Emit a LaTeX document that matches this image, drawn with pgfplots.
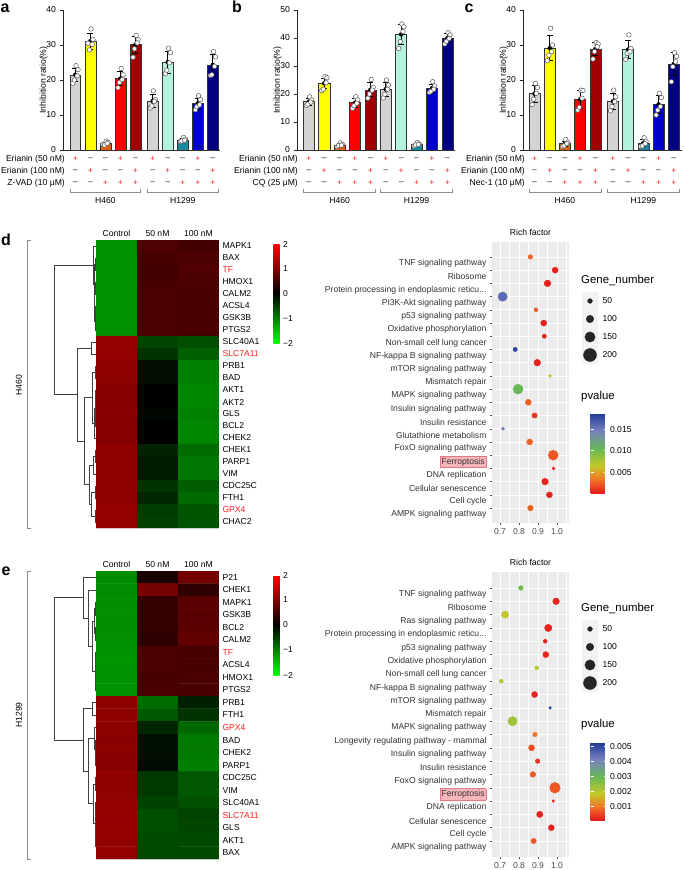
\documentclass[border=0pt]{standalone}
\usepackage{pgfplots}
\pgfplotsset{compat=1.18}
\usepackage{fontspec}
\setmainfont{Liberation Sans}
\newcommand{\fs}{\fontsize{8.6pt}{10pt}\selectfont}
\newcommand{\ft}{\fontsize{11.4pt}{13pt}\selectfont}
\newcommand{\ppr}{Protein processing in endoplasmic reticu.\kern0pt.\kern0pt.}
\definecolor{ggbg}{RGB}{235,235,235}
\definecolor{ggkey}{RGB}{242,242,242}
\definecolor{cgrey}{RGB}{211,211,211}
\definecolor{cyel}{RGB}{255,255,0}
\definecolor{cora}{RGB}{228,94,16}
\definecolor{cred}{RGB}{255,0,0}
\definecolor{cdred}{RGB}{160,0,0}
\definecolor{caqua}{RGB}{178,242,222}
\definecolor{cteal}{RGB}{24,138,158}
\definecolor{cblue}{RGB}{0,0,204}
\definecolor{cnavy}{RGB}{0,0,128}
\definecolor{sgnred}{RGB}{255,40,40}
\definecolor{genered}{RGB}{255,30,30}
\definecolor{ferf}{RGB}{245,182,188}
\definecolor{ferb}{RGB}{228,120,130}
\tikzset{
  pl/.style={text=sgnred, font=\fs, inner sep=0pt},
  mi/.style={text=black!85, font=\fs, inner sep=0pt},
}
\pgfplotsset{
  /pgf/number format/assume math mode=true,
  colormap={rg}{rgb255(0cm)=(0,255,0); rgb255(1cm)=(0,0,0); rgb255(2cm)=(255,0,0)},
  colormap={pv}{rgb255(0cm)=(228,26,28); rgb255(18cm)=(240,122,40); rgb255(34cm)=(196,200,42); rgb255(55cm)=(104,186,84); rgb255(78cm)=(120,128,192); rgb255(100cm)=(28,58,150)},
  barax/.style={anchor=south west, scale only axis, height=140pt, ymin=0, xtick=\empty,
    axis x line*=bottom, axis y line*=left, axis line style={black!85, line width=0.7pt},
    tick align=outside, major tick length=3.5pt, tick style={black!85, line width=0.7pt},
    ylabel={Inhibition ratio(\%)}, ylabel style={font=\fs}, ylabel shift=-8pt,
    yticklabel style={font=\fs}, clip=false},
  heat/.style={anchor=north west, scale only axis, width=123pt, enlargelimits=false,
    xmin=-0.5, xmax=2.5, axis line style={draw=none}, major tick length=0pt, tick style={draw=none},
    xtick={0,1,2}, xticklabels={Control,50 nM,100 nM}, xticklabel pos=upper, yticklabel pos=upper,
    tick label style={font=\fs}, colormap name=rg, point meta min=-2, point meta max=2},
  dotax/.style={anchor=north west, scale only axis, width=77pt, xmin=0.658, xmax=1.063,
    axis background/.style={fill=ggbg}, axis line style={draw=none},
    xtick={0.7,0.8,0.9,1.0}, xticklabels={0.7,0.8,0.9,1.0}, minor xtick={0.75,0.85,0.95,1.05},
    ytick={0,1,2,3,4,5,6,7,8,9,10,11,12,13,14,15,16,17,18,19}, tick pos=left, tick align=outside, major tick length=2pt, minor tick length=0pt,
    tick style={black!70, line width=0.5pt}, xmajorgrids, xminorgrids, ymajorgrids,
    major grid style={white, line width=0.7pt}, minor grid style={white, line width=0.35pt},
    xticklabel style={font=\fs, text=black!70}, yticklabel style={font=\fs, text=black!80, yshift=-6.6pt},
    title={Rich factor}, title style={font=\fs, yshift=-3pt}, colormap name=pv},
  legax/.style={anchor=north west, scale only axis, width=16pt, height=72pt, xmin=0, xmax=1, ymin=-0.5, ymax=3.5,
    axis background/.style={fill=ggkey}, axis line style={draw=none}, xtick=\empty, ytick={0,1,2,3},
    yticklabels={200,150,100,50}, yticklabel pos=upper, major tick length=0pt, tick style={draw=none},
    yticklabel style={font=\fs, xshift=1pt}},
  cbax/.style={anchor=north west, hide axis, scale only axis, width=0pt, height=0pt, colorbar},
}
\newcommand{\gbar}[9]{%
  \addplot[ybar, bar shift=0pt, bar width=0.72, fill=#2, draw=black!80, line width=0.5pt] coordinates {(#1,#3)};
  \addplot[only marks, mark=none, error bars/.cd, y dir=both, y explicit, error bar style={black, line width=0.7pt},
    error mark options={black, rotate=90, mark size=3pt, line width=0.7pt}] coordinates {(#1,#3) +- (0,#4)};
  \addplot[only marks, mark=*, mark size=2.3pt, mark options={draw=black!65, fill=white, line width=0.5pt}]
    table[row sep=\\, x expr={#1+\thisrow{dx}}, y=v] {dx v\\ 0.05 #5\\ -0.16 #6\\ 0.18 #7\\ -0.06 #8\\ 0.12 #9\\};
}
\begin{document}
\begin{tikzpicture}
\useasboundingbox (0pt,0pt) rectangle (685pt,-870pt);

% ---------------- panel a
\begin{axis}[barax, at={(63pt,-150pt)}, width=157pt, xmin=-0.82, xmax=9.63, ymax=40, ytick={0,10,20,30,40}]
\gbar{0}{cgrey}{21.5}{1.9}{24.1}{19.1}{23.0}{20.0}{21.2}
\gbar{1}{cyel}{31.1}{2.2}{34.6}{30.5}{31.6}{28.6}{30.2}
\gbar{2}{cora}{1.9}{0.4}{2.5}{1.6}{2.2}{1.4}{1.9}
\gbar{3}{cred}{20.4}{2.0}{23.3}{17.8}{21.5}{19.3}{20.1}
\gbar{4}{cdred}{30.1}{2.4}{32.7}{26.5}{31.6}{28.9}{30.6}
\gbar{5.15}{cgrey}{14.0}{1.9}{16.9}{12.0}{14.4}{12.6}{13.9}
\gbar{6.15}{caqua}{25.1}{3.1}{29.1}{21.8}{27.8}{22.8}{24.9}
\gbar{7.15}{cteal}{2.9}{0.45}{3.6}{2.4}{3.1}{2.6}{2.8}
\gbar{8.15}{cblue}{13.3}{1.6}{15.5}{11.5}{14.4}{12.4}{12.9}
\gbar{9.15}{cnavy}{24.3}{3.0}{28.1}{21.3}{26.6}{21.5}{23.9}
\pgfplotsinvokeforeach{0,3,5.15,8.15}{\node[pl, yshift=-9pt] at (axis cs:#1,0) {+};}
\pgfplotsinvokeforeach{1,2,4,6.15,7.15,9.15}{\node[mi, yshift=-9pt] at (axis cs:#1,0) {–};}
\pgfplotsinvokeforeach{1,4,6.15,9.15}{\node[pl, yshift=-21pt] at (axis cs:#1,0) {+};}
\pgfplotsinvokeforeach{0,2,3,5.15,7.15,8.15}{\node[mi, yshift=-21pt] at (axis cs:#1,0) {–};}
\pgfplotsinvokeforeach{2,3,4,7.15,8.15,9.15}{\node[pl, yshift=-33pt] at (axis cs:#1,0) {+};}
\pgfplotsinvokeforeach{0,1,5.15,6.15}{\node[mi, yshift=-33pt] at (axis cs:#1,0) {–};}
\end{axis}

% ---------------- panel b
\begin{axis}[barax, at={(297pt,-150pt)}, width=158pt, xmin=-0.77, xmax=9.5, ymax=50, ytick={0,10,20,30,40,50}]
\gbar{0}{cgrey}{17.3}{1.2}{19.0}{15.9}{17.9}{16.4}{17.1}
\gbar{1}{cyel}{23.8}{1.9}{26.2}{21.2}{25.8}{21.7}{24.0}
\gbar{2}{cora}{1.8}{0.5}{2.5}{1.2}{2.0}{1.6}{1.7}
\gbar{3}{cred}{16.9}{1.6}{19.0}{14.9}{17.9}{15.8}{16.7}
\gbar{4}{cdred}{21.5}{2.5}{25.2}{18.5}{22.4}{20.0}{21.4}
\gbar{5}{cgrey}{21.7}{2.5}{25.0}{18.6}{23.2}{19.9}{21.7}
\gbar{6}{caqua}{41.3}{3.6}{45.0}{36.3}{44.0}{38.7}{42.3}
\gbar{7}{cteal}{2.0}{0.4}{2.6}{1.5}{2.2}{1.8}{2.0}
\gbar{8}{cblue}{22.1}{1.5}{24.4}{20.6}{22.9}{21.0}{21.7}
\gbar{9}{cnavy}{39.9}{1.6}{41.9}{37.9}{41.1}{38.8}{39.8}
\pgfplotsinvokeforeach{0,3,5,8}{\node[pl, yshift=-9pt] at (axis cs:#1,0) {+};}
\pgfplotsinvokeforeach{1,2,4,6,7,9}{\node[mi, yshift=-9pt] at (axis cs:#1,0) {–};}
\pgfplotsinvokeforeach{1,4,6,9}{\node[pl, yshift=-21pt] at (axis cs:#1,0) {+};}
\pgfplotsinvokeforeach{0,2,3,5,7,8}{\node[mi, yshift=-21pt] at (axis cs:#1,0) {–};}
\pgfplotsinvokeforeach{2,3,4,7,8,9}{\node[pl, yshift=-33pt] at (axis cs:#1,0) {+};}
\pgfplotsinvokeforeach{0,1,5,6}{\node[mi, yshift=-33pt] at (axis cs:#1,0) {–};}
\end{axis}

% ---------------- panel c
\begin{axis}[barax, at={(523pt,-150pt)}, width=159pt, xmin=-0.76, xmax=9.69, ymax=40, ytick={0,10,20,30,40}]
\gbar{0}{cgrey}{16.1}{2.4}{19.0}{13.0}{17.8}{14.5}{16.2}
\gbar{1}{cyel}{29.1}{3.6}{34.8}{25.5}{30.0}{27.1}{28.1}
\gbar{2}{cora}{1.8}{0.8}{3.0}{1.0}{2.2}{1.2}{1.8}
\gbar{3}{cred}{14.5}{2.6}{17.1}{11.4}{17.0}{12.2}{14.8}
\gbar{4}{cdred}{28.9}{1.9}{30.7}{26.0}{30.3}{28.1}{29.5}
\gbar{5.15}{cgrey}{13.9}{2.3}{17.1}{11.2}{15.2}{12.4}{13.8}
\gbar{6.15}{caqua}{28.7}{2.6}{32.9}{25.9}{29.0}{27.6}{28.1}
\gbar{7.15}{cteal}{2.0}{1.0}{3.5}{1.0}{2.5}{1.2}{1.8}
\gbar{8.15}{cblue}{13.0}{2.6}{16.2}{10.0}{15.0}{11.4}{12.4}
\gbar{9.15}{cnavy}{24.6}{3.2}{27.8}{19.5}{26.7}{23.8}{25.2}
\pgfplotsinvokeforeach{0,3,5.15,8.15}{\node[pl, yshift=-9pt] at (axis cs:#1,0) {+};}
\pgfplotsinvokeforeach{1,2,4,6.15,7.15,9.15}{\node[mi, yshift=-9pt] at (axis cs:#1,0) {–};}
\pgfplotsinvokeforeach{1,4,6.15,9.15}{\node[pl, yshift=-21pt] at (axis cs:#1,0) {+};}
\pgfplotsinvokeforeach{0,2,3,5.15,7.15,8.15}{\node[mi, yshift=-21pt] at (axis cs:#1,0) {–};}
\pgfplotsinvokeforeach{2,3,4,7.15,8.15,9.15}{\node[pl, yshift=-33pt] at (axis cs:#1,0) {+};}
\pgfplotsinvokeforeach{0,1,5.15,6.15}{\node[mi, yshift=-33pt] at (axis cs:#1,0) {–};}
\end{axis}

% row labels and groups
\foreach \xx/\lab in {65/{Z-VAD (10 μM)}, 298/{CQ (25 μM)}, 525/{Nec-1 (10 μM)}}{
  \node[anchor=east, font=\fs, inner sep=0pt] at (\xx pt,-159pt) {Erianin (50 nM)};
  \node[anchor=east, font=\fs, inner sep=0pt] at (\xx pt,-171pt) {Erianin (100 nM)};
  \node[anchor=east, font=\fs, inner sep=0pt] at (\xx pt,-183pt) {\lab};
}
\foreach \xx in {105.4,339.6,565}{\node[font=\fs] at (\xx pt,-201pt) {H460};}
\foreach \xx in {182.8,416.5,643.4}{\node[font=\fs] at (\xx pt,-201pt) {H1299};}

% ---------------- overlay: dendrograms and brackets
\begin{axis}[at={(0pt,0pt)}, anchor=north west, scale only axis, width=685pt, height=870pt,
  xmin=0, xmax=685, ymin=0, ymax=870, y dir=reverse, hide axis, clip=false, unbounded coords=jump]
\addplot[black!45, line width=0.7pt] coordinates {
(69.9,189) (69.9,192) (140.8,192) (140.8,189) (nan,nan) (147.3,189) (147.3,192) (218.2,192) (218.2,189) (nan,nan)
(303.3,189) (303.3,192) (375.8,192) (375.8,189) (nan,nan) (380.2,189) (380.2,192) (452.7,192) (452.7,189) (nan,nan)
(529.1,189) (529.1,192) (601,192) (601,189) (nan,nan) (607.4,189) (607.4,192) (679.3,192) (679.3,189) (nan,nan)
(31,240) (27,240) (27,528) (31,528) (nan,nan) (31,571) (27,571) (27,859) (31,859)};
\addplot[black!75, line width=0.6pt] coordinates {
(96,258) (95,258) (95,270) (96,270) (nan,nan)
(96,282) (95.5,282) (95.5,294) (96,294) (nan,nan)
(96,306) (95.5,306) (95.5,318) (96,318) (nan,nan)
(95.5,312) (95,312) (95,330) (96,330) (nan,nan)
(95.5,288) (94.5,288) (94.5,321) (95,321) (nan,nan)
(95,264) (94,264) (94,304.5) (94.5,304.5) (nan,nan)
(96,246) (93,246) (93,284.25) (94,284.25) (nan,nan)
(96,342) (91,342) (91,354) (96,354) (nan,nan)
(96,366) (95,366) (95,378) (96,378) (nan,nan)
(96,390) (95.5,390) (95.5,402) (96,402) (nan,nan)
(96,414) (95.5,414) (95.5,426) (96,426) (nan,nan)
(95.5,396) (95,396) (95,420) (95.5,420) (nan,nan)
(95,408) (94,408) (94,438) (96,438) (nan,nan)
(95,372) (92,372) (92,423) (94,423) (nan,nan)
(96,450) (95,450) (95,462) (96,462) (nan,nan)
(95,456) (93,456) (93,474) (96,474) (nan,nan)
(96,486) (95,486) (95,498) (96,498) (nan,nan)
(96,510) (95,510) (95,522) (96,522) (nan,nan)
(95,492) (91,492) (91,516) (95,516) (nan,nan)
(93,465) (89,465) (89,504) (91,504) (nan,nan)
(92,397.5) (84,397.5) (84,484.5) (89,484.5) (nan,nan)
(91,348) (77,348) (77,441) (84,441) (nan,nan)
(93,265.1) (54,265.1) (54,394.5) (77,394.5) (nan,nan)
(96,602.3) (95,602.3) (95,614.8) (96,614.8) (nan,nan)
(96,627.3) (95.5,627.3) (95.5,639.9) (96,639.9) (nan,nan)
(95,608.6) (94,608.6) (94,633.6) (95.5,633.6) (nan,nan)
(96,652.4) (95.5,652.4) (95.5,664.9) (96,664.9) (nan,nan)
(96,677.4) (95.5,677.4) (95.5,689.9) (96,689.9) (nan,nan)
(95.5,658.7) (95,658.7) (95,683.7) (95.5,683.7) (nan,nan)
(94,621.1) (92,621.1) (92,671.2) (95,671.2) (nan,nan)
(96,589.8) (88,589.8) (88,646.2) (92,646.2) (nan,nan)
(96,577.3) (83,577.3) (83,618) (88,618) (nan,nan)
(96,702.5) (92.5,702.5) (92.5,715) (96,715) (nan,nan)
(96,752.5) (95.5,752.5) (95.5,765.1) (96,765.1) (nan,nan)
(96,740) (95,740) (95,758.8) (95.5,758.8) (nan,nan)
(96,727.5) (94,727.5) (94,749.4) (95,749.4) (nan,nan)
(96,777.6) (95.5,777.6) (95.5,790.1) (96,790.1) (nan,nan)
(96,802.6) (95.5,802.6) (95.5,815.1) (96,815.1) (nan,nan)
(96,840.2) (95.8,840.2) (95.8,852.7) (96,852.7) (nan,nan)
(96,827.6) (95.5,827.6) (95.5,846.4) (95.8,846.4) (nan,nan)
(95.5,808.9) (95,808.9) (95,837) (95.5,837) (nan,nan)
(95.5,783.9) (93,783.9) (93,823) (95,823) (nan,nan)
(94,738.5) (88,738.5) (88,803.4) (93,803.4) (nan,nan)
(92.5,708.75) (83,708.75) (83,771) (88,771) (nan,nan)
(83,597.7) (54,597.7) (54,739.9) (83,739.9)};
\end{axis}
\node[rotate=90, font=\fs] at (19pt,-385pt) {H460};
\node[rotate=90, font=\fs] at (19pt,-715pt) {H1299};

% ---------------- heatmap d
\begin{axis}[heat, at={(96pt,-240pt)}, height=288pt, ymin=-0.5, ymax=23.5, ytick={0,1,2,3,4,5,6,7,8,9,10,11,12,13,14,15,16,17,18,19,20,21,22,23},
  yticklabels={CHAC2,\textcolor{genered}{GPX4},FTH1,CDC25C,VIM,PARP1,CHEK1,CHEK2,BCL2,GLS,AKT2,AKT1,BAD,PRB1,\textcolor{genered}{SLC7A11},SLC40A1,PTGS2,GSK3B,ACSL4,CALM2,HMOX1,\textcolor{genered}{TF},BAX,MAPK1}]
\addplot[matrix plot*, mesh/cols=3, point meta=explicit] table[meta=z] {
x y z
0 23 -1.15
1 23 0.62
2 23 0.53
0 22 -1.15
1 22 0.55
2 22 0.60
0 21 -1.15
1 21 0.52
2 21 0.63
0 20 -1.15
1 20 0.55
2 20 0.60
0 19 -1.15
1 19 0.58
2 19 0.57
0 18 -1.15
1 18 0.58
2 18 0.57
0 17 -1.15
1 17 0.58
2 17 0.57
0 16 -1.15
1 16 0.58
2 16 0.57
0 15 1.15
1 15 -0.55
2 15 -0.60
0 14 1.15
1 14 -0.40
2 14 -0.75
0 13 1.10
1 13 -0.10
2 13 -1.00
0 12 1.10
1 12 -0.10
2 12 -1.00
0 11 1.05
1 11 0.00
2 11 -1.05
0 10 1.05
1 10 0.00
2 10 -1.05
0 9 1.07
1 9 -0.05
2 9 -1.02
0 8 1.05
1 8 0.00
2 8 -1.05
0 7 1.05
1 7 0.00
2 7 -1.05
0 6 1.12
1 6 -0.28
2 6 -0.84
0 5 1.12
1 5 -0.20
2 5 -0.92
0 4 1.12
1 4 -0.20
2 4 -0.92
0 3 1.13
1 3 -0.40
2 3 -0.73
0 2 1.13
1 2 -0.30
2 2 -0.83
0 1 1.15
1 1 -0.48
2 1 -0.67
0 0 1.15
1 0 -0.50
2 0 -0.65
};
\end{axis}

% ---------------- heatmap e
\begin{axis}[heat, at={(96pt,-571pt)}, height=288pt, ymin=-0.5, ymax=22.5, ytick={0,1,2,3,4,5,6,7,8,9,10,11,12,13,14,15,16,17,18,19,20,21,22},
  yticklabels={BAX,AKT1,GLS,\textcolor{genered}{SLC7A11},SLC40A1,VIM,CDC25C,PARP1,CHEK2,BAD,\textcolor{genered}{GPX4},FTH1,PRB1,PTGS2,HMOX1,ACSL4,\textcolor{genered}{TF},CALM2,BCL2,GSK3B,MAPK1,CHEK1,P21}]
\addplot[matrix plot*, mesh/cols=3, point meta=explicit] table[meta=z] {
x y z
0 22 -1.10
1 22 0.20
2 22 0.90
0 21 -1.10
1 21 0.92
2 21 0.38
0 20 -1.12
1 20 0.42
2 20 0.70
0 19 -1.12
1 19 0.42
2 19 0.70
0 18 -1.12
1 18 0.40
2 18 0.72
0 17 -1.12
1 17 0.36
2 17 0.76
0 16 -1.15
1 16 0.60
2 16 0.55
0 15 -1.15
1 15 0.60
2 15 0.55
0 14 -1.15
1 14 0.56
2 14 0.59
0 13 -1.15
1 13 0.58
2 13 0.57
0 12 1.10
1 12 -0.85
2 12 -0.25
0 11 1.10
1 11 -0.70
2 11 -0.40
0 10 1.10
1 10 -0.30
2 10 -0.80
0 9 1.07
1 9 -0.12
2 9 -0.95
0 8 1.07
1 8 -0.12
2 8 -0.95
0 7 1.07
1 7 -0.08
2 7 -0.99
0 6 1.13
1 6 -0.45
2 6 -0.68
0 5 1.13
1 5 -0.45
2 5 -0.68
0 4 1.15
1 4 -0.52
2 4 -0.63
0 3 1.15
1 3 -0.62
2 3 -0.53
0 2 1.15
1 2 -0.60
2 2 -0.55
0 1 1.15
1 1 -0.58
2 1 -0.57
0 0 1.15
1 0 -0.58
2 0 -0.57
};
\end{axis}

% heatmap colorbars
\begin{axis}[cbax, at={(265pt,-244pt)}, colormap name=rg, point meta min=-2, point meta max=2,
  colorbar style={at={(parent axis.north east)}, anchor=north west, width=6pt, height=99pt,
    ytick={-2,-1,0,1,2}, yticklabels={−2,−1,0,1,2}, yticklabel style={font=\fs},
    axis line style={draw=none}, major tick length=0pt, tick style={draw=none}}]
\addplot[draw=none] coordinates {(0,0)};
\end{axis}
\begin{axis}[cbax, at={(265pt,-575pt)}, colormap name=rg, point meta min=-2, point meta max=2,
  colorbar style={at={(parent axis.north east)}, anchor=north west, width=6pt, height=100pt,
    ytick={-2,-1,0,1,2}, yticklabels={−2,−1,0,1,2}, yticklabel style={font=\fs},
    axis line style={draw=none}, major tick length=0pt, tick style={draw=none}}]
\addplot[draw=none] coordinates {(0,0)};
\end{axis}

% ---------------- dot plot d
\begin{axis}[dotax, at={(492pt,-242pt)}, height=281pt, ymin=-1.13, ymax=20.13, point meta min=0.0001, point meta max=0.0188,
  yticklabels={AMPK signaling pathway,Cell cycle,Cellular senescence,DNA replication,{\fboxsep=1.5pt\fboxrule=0.4pt\fcolorbox{ferb}{ferf}{Ferroptosis}},FoxO signaling pathway,Glutathione metabolism,Insulin resistance,Insulin signaling pathway,MAPK signaling pathway,Mismatch repair,mTOR signaling pathway,NF-kappa B signaling pathway,Non-small cell lung cancer,Oxidative phosphorylation,p53 signaling pathway,PI3K-Akt signaling pathway,{\ppr},Ribosome,TNF signaling pathway}]
\addplot[scatter, only marks, mark=*, point meta=explicit, visualization depends on={\thisrow{n} \as \gn},
  scatter/use mapped color={draw=mapped color, fill=mapped color},
  scatter/@pre marker code/.append style={/tikz/mark size=1+0.0275*\gn}]
  table[x=x, y=y, meta=p] {
x y n p
0.86 19 48 0.0028
0.99 18 73 0.0003
0.95 17 85 0.0003
0.714 16 133 0.0160
0.889 15 36 0.0025
0.93 14 73 0.0003
0.933 13 42 0.0004
0.78 12 42 0.0182
0.896 11 85 0.0003
0.963 10 18 0.0062
0.795 9 145 0.0105
0.849 8 73 0.0025
0.882 7 61 0.0012
0.716 6 24 0.0150
0.856 5 73 0.0026
0.98 4 145 0.0022
0.982 3 18 0.0003
0.937 2 85 0.0004
0.96 1 73 0.0005
0.86 0 67 0.0026
};
\end{axis}

% ---------------- dot plot e
\begin{axis}[dotax, at={(492pt,-572pt)}, height=285pt, ymin=-1.2, ymax=20.2, point meta min=0.0001, point meta max=0.0053,
  yticklabels={AMPK signaling pathway,Cell cycle,Cellular senescence,DNA replication,{\fboxsep=1.5pt\fboxrule=0.4pt\fcolorbox{ferb}{ferf}{Ferroptosis}},FoxO signaling pathway,Insulin resistance,Insulin signaling pathway,Longevity regulating pathway - mammal,MAPK signaling pathway,Mismatch repair,mTOR signaling pathway,NF-kappa B signaling pathway,Non-small cell lung cancer,Oxidative phosphorylation,p53 signaling pathway,{\ppr},Ras signaling pathway,Ribosome,TNF signaling  pathway}]
\addplot[scatter, only marks, mark=*, point meta=explicit, visualization depends on={\thisrow{n} \as \gn},
  scatter/use mapped color={draw=mapped color, fill=mapped color},
  scatter/@pre marker code/.append style={/tikz/mark size=1+0.0275*\gn}]
  table[x=x, y=y, meta=p] {
x y n p
0.81 19 48 0.0029
0.995 18 85 0.0002
0.727 17 97 0.0019
0.954 16 97 0.0002
0.938 15 36 0.0002
0.941 14 73 0.0002
0.893 13 36 0.0020
0.707 12 36 0.0021
0.882 11 73 0.0002
0.964 10 12 0.0052
0.766 9 133 0.0023
0.884 8 48 0.0010
0.866 7 73 0.0006
0.898 6 48 0.0003
0.873 5 67 0.0007
0.989 4 158 0.0007
0.98 3 12 0.0002
0.909 2 79 0.0002
0.97 1 73 0.0002
0.877 0 61 0.0007
};
\end{axis}

% ---------------- legends
\node[anchor=west, font=\ft, inner sep=0pt] at (581pt,-280pt) {Gene\_number};
\node[anchor=west, font=\ft, inner sep=0pt] at (581pt,-397pt) {pvalue};
\node[anchor=west, font=\ft, inner sep=0pt] at (581pt,-608pt) {Gene\_number};
\node[anchor=west, font=\ft, inner sep=0pt] at (581pt,-725pt) {pvalue};
\begin{axis}[legax, at={(582pt,-292pt)}]
\addplot[scatter, only marks, mark=*, visualization depends on={\thisrow{n} \as \gn},
  scatter/use mapped color={draw=black!85, fill=black!85},
  scatter/@pre marker code/.append style={/tikz/mark size=1+0.0275*\gn}]
  table {x y n
0.5 0 200
0.5 1 150
0.5 2 100
0.5 3 50
};
\end{axis}
\begin{axis}[legax, at={(582pt,-620pt)}]
\addplot[scatter, only marks, mark=*, visualization depends on={\thisrow{n} \as \gn},
  scatter/use mapped color={draw=black!85, fill=black!85},
  scatter/@pre marker code/.append style={/tikz/mark size=1+0.0275*\gn}]
  table {x y n
0.5 0 200
0.5 1 150
0.5 2 100
0.5 3 50
};
\end{axis}
\begin{axis}[cbax, at={(582pt,-413pt)}, colormap name=pv, point meta min=0.0001, point meta max=0.0188,
  colorbar style={at={(parent axis.north east)}, anchor=north west, width=16pt, height=80pt, scaled y ticks=false,
    ytick={0.005,0.010,0.015}, yticklabels={0.005,0.010,0.015}, yticklabel style={font=\fs},
    axis line style={draw=none}, major tick length=3pt, tick align=inside, tick style={white, line width=0.5pt}}]
\addplot[draw=none] coordinates {(0,0)};
\end{axis}
\begin{axis}[cbax, at={(582pt,-742pt)}, colormap name=pv, point meta min=0.0001, point meta max=0.0053,
  colorbar style={at={(parent axis.north east)}, anchor=north west, width=16pt, height=78pt, scaled y ticks=false,
    ytick={0.001,0.002,0.003,0.004,0.005}, yticklabels={0.001,0.002,0.003,0.004,0.005}, yticklabel style={font=\fs},
    axis line style={draw=none}, major tick length=3pt, tick align=inside, tick style={white, line width=0.5pt}}]
\addplot[draw=none] coordinates {(0,0)};
\end{axis}

% panel letters
\node[font=\bfseries\fontsize{16pt}{16pt}\selectfont] at (5pt,-8pt) {a};
\node[font=\bfseries\fontsize{16pt}{16pt}\selectfont] at (237pt,-7pt) {b};
\node[font=\bfseries\fontsize{16pt}{16pt}\selectfont] at (469pt,-8pt) {c};
\node[font=\bfseries\fontsize{16pt}{16pt}\selectfont] at (6pt,-240pt) {d};
\node[font=\bfseries\fontsize{16pt}{16pt}\selectfont] at (6pt,-571pt) {e};
\end{tikzpicture}
\end{document}
